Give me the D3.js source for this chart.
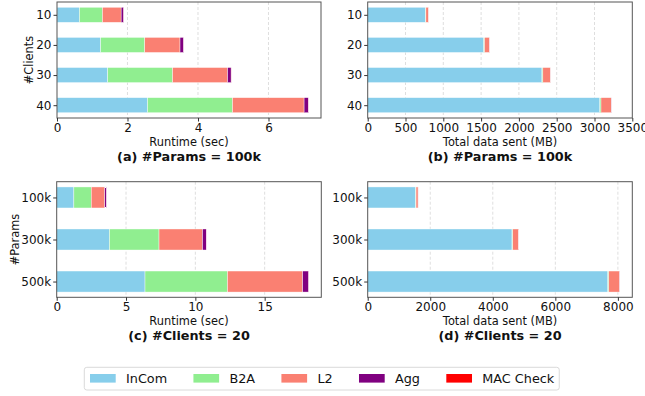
<!DOCTYPE html>
<html>
<head>
<meta charset="utf-8">
<script src="https://cdn.jsdelivr.net/npm/d3@7"></script>
<style>
  body { margin: 0; background: #fff; }
  text { font-family: "DejaVu Sans", sans-serif; }
</style>
</head>
<body>
<svg id="chart" width="645" height="396"></svg>
<script>
// stack parts, in drawing order
const parts = ["InCom", "B2A", "L2", "Agg", "MAC Check"];
const partColors = ["#87CEEB", "#90EE90", "#FA8072", "#800080", "#FF0000"];

// (a) runtime vs #clients, 100k params
const clients = ["10", "20", "30", "40"];
const runClients = {
  "InCom":     [0.64, 1.24, 1.44, 2.57],
  "B2A":       [0.65, 1.25, 1.84, 2.41],
  "L2":        [0.53, 1.00, 1.56, 2.03],
  "Agg":       [0.07, 0.10, 0.10, 0.12],
  "MAC Check": [0.002, 0.002, 0.003, 0.003]
};
// (b) data sent vs #clients, 100k params
const dataClients = {
  "InCom":     [765, 1536, 2305, 3071],
  "B2A":       [5, 10, 12, 15],
  "L2":        [38, 65, 100, 135],
  "Agg":       [1, 1, 1, 2],
  "MAC Check": [0, 0, 0, 0]
};
// (c) runtime vs #params, 20 clients
const params = ["100k", "300k", "500k"];
const runParams = {
  "InCom":     [1.24, 3.81, 6.37],
  "B2A":       [1.25, 3.57, 5.95],
  "L2":        [0.98, 3.14, 5.42],
  "Agg":       [0.12, 0.27, 0.43],
  "MAC Check": [0.002, 0.004, 0.006]
};
// (d) data sent vs #params, 20 clients
const dataParams = {
  "InCom":     [1536, 4615, 7680],
  "B2A":       [10, 25, 30],
  "L2":        [65, 190, 344],
  "Agg":       [2, 3, 4],
  "MAC Check": [0, 0, 0]
};

const ticksA = [0, 2, 4, 6];
const ticksB = [0, 500, 1000, 1500, 2000, 2500, 3000, 3500];
const ticksC = [0, 5, 10, 15];
const ticksD = [0, 2000, 4000, 6000, 8000];

const svg = d3.select("#chart");

// one horizontal stacked bar panel
function panel(opt) {
  const { x0, x1, y0, y1, cats, values, ticks, xmax, xlabel, ylabel, title } = opt;
  const g = svg.append("g");

  const totals = cats.map((c, i) => d3.sum(parts, p => values[p][i]));
  const x = d3.scaleLinear()
    .domain([0, xmax || d3.max(totals) * 1.05])
    .range([x0, x1]);
  // matplotlib style categorical axis: bar height 0.5, 5% margins
  const n = cats.length;
  const pad = (n - 0.5) * 0.05;
  const y = d3.scaleLinear()
    .domain([-0.25 - pad, n - 0.75 + pad])
    .range([y0, y1]);
  const bh = y(0.5) - y(0);

  // grid
  g.selectAll("line.grid").data(ticks.filter(t => t > 0 && x(t) < x1 - 1)).join("line")
    .attr("x1", d => x(d)).attr("x2", d => x(d))
    .attr("y1", y0).attr("y2", y1)
    .attr("stroke", "#d6d6d6").attr("stroke-width", 0.8)
    .attr("stroke-dasharray", "3,2");

  // stacked segments
  cats.forEach((c, i) => {
    let acc = 0;
    parts.forEach((p, k) => {
      const v = values[p][i];
      if (v <= 0) return;
      g.append("rect")
        .attr("x", x(acc))
        .attr("y", y(i) - bh / 2)
        .attr("width", x(acc + v) - x(acc))
        .attr("height", bh)
        .attr("fill", partColors[k])
        .attr("stroke", "#fff")
        .attr("stroke-width", 0.4);
      acc += v;
    });
  });

  // frame
  g.append("rect")
    .attr("x", x0).attr("y", y0)
    .attr("width", x1 - x0).attr("height", y1 - y0)
    .attr("fill", "none").attr("stroke", "#555").attr("stroke-width", 1);

  // x axis
  const xa = g.append("g").attr("transform", `translate(0,${y1})`)
    .call(d3.axisBottom(x).tickValues(ticks).tickSize(3.5).tickPadding(2).tickFormat(d3.format("d")));
  xa.select(".domain").remove();
  xa.selectAll("line").attr("stroke", "#333");
  xa.selectAll("text").attr("font-size", 12).attr("fill", "#111")
    .attr("font-family", "DejaVu Sans");

  // y axis
  const ya = g.append("g").attr("transform", `translate(${x0},0)`)
    .call(d3.axisLeft(y).tickValues(d3.range(n)).tickSize(3.5).tickPadding(2).tickFormat(i => cats[i]));
  ya.select(".domain").remove();
  ya.selectAll("line").attr("stroke", "#333");
  ya.selectAll("text").attr("font-size", 12).attr("fill", "#111")
    .attr("font-family", "DejaVu Sans");

  const cx = (x0 + x1) / 2;
  g.append("text").attr("x", cx).attr("y", y1 + 28)
    .attr("text-anchor", "middle").attr("font-size", 11.4).attr("fill", "#111")
    .text(xlabel);
  g.append("text").attr("x", cx).attr("y", y1 + 43)
    .attr("text-anchor", "middle").attr("font-size", 12.8).attr("font-weight", "bold")
    .attr("fill", "#111")
    .text(title);
  if (ylabel) {
    g.append("text")
      .attr("transform", `translate(${opt.ylx},${(y0 + y1) / 2}) rotate(-90)`)
      .attr("text-anchor", "middle").attr("font-size", 11.4).attr("fill", "#111")
      .text(ylabel);
  }
}

panel({ x0: 57, x1: 321, y0: 2, y1: 118, cats: clients, values: runClients, ticks: ticksA,
  xlabel: "Runtime (sec)", ylabel: "#Clients", ylx: 33, title: "(a) #Params = 100k" });
panel({ x0: 367.7, x1: 632.3, y0: 2, y1: 118, cats: clients, values: dataClients, ticks: ticksB,
  xmax: 3500, xlabel: "Total data sent (MB)", title: "(b) #Params = 100k" });
panel({ x0: 56.7, x1: 321.3, y0: 181.7, y1: 297.3, cats: params, values: runParams, ticks: ticksC,
  xlabel: "Runtime (sec)", ylabel: "#Params", ylx: 19, title: "(c) #Clients = 20" });
panel({ x0: 367.7, x1: 632.3, y0: 181.7, y1: 297.3, cats: params, values: dataParams, ticks: ticksD,
  xlabel: "Total data sent (MB)", title: "(d) #Clients = 20" });

// legend
const lg = svg.append("g");
const lbox = lg.append("rect")
  .attr("y", 367.3).attr("height", 22.7).attr("rx", 2.5)
  .attr("fill", "#fff").attr("stroke", "#d0d0d0").attr("stroke-width", 0.8);
let lx = 90;
parts.forEach((p, k) => {
  lg.append("rect").attr("x", lx).attr("y", 374).attr("width", 25.7).attr("height", 8.6)
    .attr("fill", partColors[k]);
  const t = lg.append("text").attr("x", lx + 36).attr("y", 383)
    .attr("font-size", 12.8).attr("fill", "#111").text(p);
  lx += 36 + t.node().getComputedTextLength() + 26.3;
});
lbox.attr("x", 84.3).attr("width", lx - 26.3 + 5 - 84.3);
</script>
</body>
</html>
